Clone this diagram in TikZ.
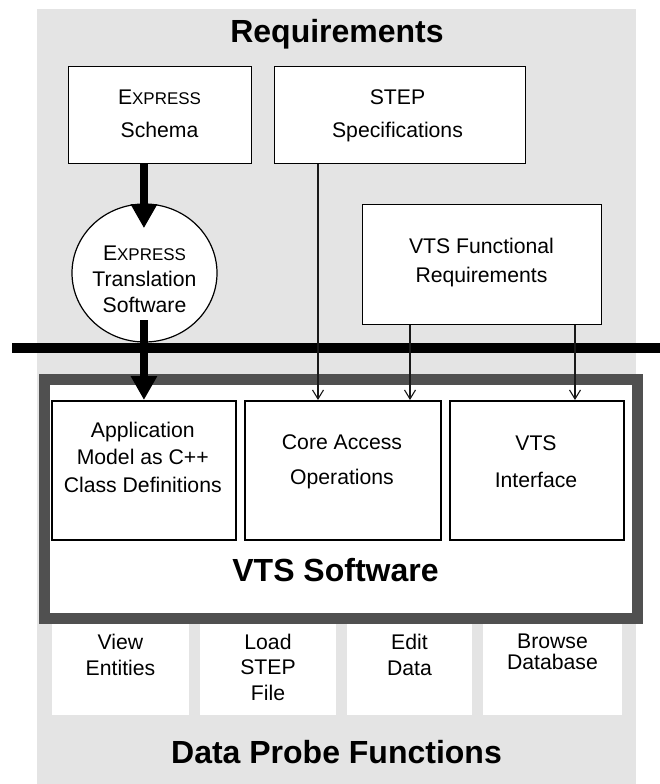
\documentclass[tikz,border=0pt]{standalone}
\usepackage{fontspec}
\setmainfont{Liberation Sans}
\usetikzlibrary{arrows.meta,calc,shapes.geometric}
\definecolor{panel}{HTML}{E4E4E4}
\definecolor{framegray}{HTML}{505050}
\newcommand\expressname{E\scalebox{0.8}{XPRESS}}

\begin{document}
\begin{tikzpicture}[x=1pt,y=-1pt,
  reqbox/.style={draw=black,line width=1.2pt,fill=white,inner sep=0pt,anchor=north west},
  swbox/.style={draw=black,line width=2.4pt,fill=white,inner sep=0pt,anchor=north west},
  probebox/.style={fill=white,inner sep=0pt,anchor=north west},
  txt/.style={align=center,inner sep=0pt,anchor=base,font=\fontsize{21.2}{26}\selectfont},
  title/.style={inner sep=0pt,anchor=base,font=\fontsize{32}{36}\selectfont\bfseries},
  flowarrow/.style={line width=8pt,-{Triangle[width=25pt,length=24pt]}},
  linkarrow/.style={draw=black!90,line width=1.1pt,-{Straight Barb[width=11pt,length=9pt,line width=1.1pt]}}]

\useasboundingbox (0,0) rectangle (660,784);

% grey panel behind the whole diagram
\fill[panel] (37,9) rectangle (636,784);

\node[title] (reqtitle) at (337,43) {Requirements};

% requirement sources
\node[reqbox,minimum width=183,minimum height=97] (schema) at (68,66) {};
\node[reqbox,minimum width=251,minimum height=97] (step) at (274,66) {};
\node[reqbox,minimum width=239,minimum height=120] (func) at (362,204) {};
\node[draw=black,line width=1.2pt,fill=white,ellipse,inner sep=0pt,
      minimum width=145,minimum height=138] (trans) at (144.5,273) {};

% multi-line labels are placed by the baseline of their last line
\node[txt,font=\fontsize{21.2}{33}\selectfont] (schema-t) at (159.5,137) {\expressname\\Schema};
\node[txt,font=\fontsize{21.2}{33}\selectfont] (step-t) at (397.5,137) {STEP\\Specifications};
\node[txt,font=\fontsize{21.2}{29}\selectfont] (func-t) at (481.5,282) {VTS Functional\\Requirements};
\node[txt,font=\fontsize{21.2}{26}\selectfont] (trans-t) at (144.5,312) {\expressname\\Translation\\Software};

% probe function tiles below the software frame
\node[probebox,minimum width=137,minimum height=103] (view) at (52,612) {};
\node[probebox,minimum width=136,minimum height=103] (load) at (200,612) {};
\node[probebox,minimum width=125,minimum height=103] (edit) at (347,612) {};
\node[probebox,minimum width=139,minimum height=103] (browse) at (483,612) {};

\node[txt] (view-t) at (120.5,675) {View\\Entities};
\node[txt,font=\fontsize{21.2}{25.5}\selectfont] (load-t) at (268,700) {Load\\STEP\\File};
\node[txt] (edit-t) at (409.5,675) {Edit\\Data};
\node[txt,font=\fontsize{21.2}{20.5}\selectfont] (browse-t) at (552.5,669) {Browse\\Database};

\node[title] (probetitle) at (336.5,763) {Data Probe Functions};

% boundary between requirements and software
\draw[line width=10pt] (12,348) -- (660,348);

% VTS software frame
\node[draw=framegray,line width=11pt,fill=white,inner sep=0pt,anchor=north west,
      minimum width=593,minimum height=239] (vts) at (39,373.5) {};

\node[swbox,minimum width=184.5,minimum height=139] (appmodel) at (50.5,400) {};
\node[swbox,minimum width=196,minimum height=139] (core) at (244,400) {};
\node[swbox,minimum width=174,minimum height=139] (iface) at (449,400) {};

\node[txt,font=\fontsize{21.2}{27.5}\selectfont] (appmodel-t) at (142.75,492) {Application\\Model as C++\\Class Definitions};
\node[txt,font=\fontsize{21.2}{35}\selectfont] (core-t) at (342,484) {Core Access\\Operations};
\node[txt,font=\fontsize{21.2}{37}\selectfont] (iface-t) at (536,487) {VTS\\Interface};

\node[title] (vtstitle) at (335.5,581) {VTS Software};

% translation flow
\draw[flowarrow] (schema.south -| appmodel.north) -- ++(0,64);
\draw[flowarrow] ($(trans.center -| appmodel.north)+(0,47)$) -- (appmodel.north);

% requirement links into the software
\coordinate (xa) at (318,0);
\coordinate (xb) at (410,0);
\coordinate (xc) at (575,0);
\draw[linkarrow] (step.south -| xa) -- (core.north -| xa);
\draw[linkarrow] (func.south -| xb) -- (core.north -| xb);
\draw[linkarrow] (func.south -| xc) -- (iface.north -| xc);

\end{tikzpicture}
\end{document}
